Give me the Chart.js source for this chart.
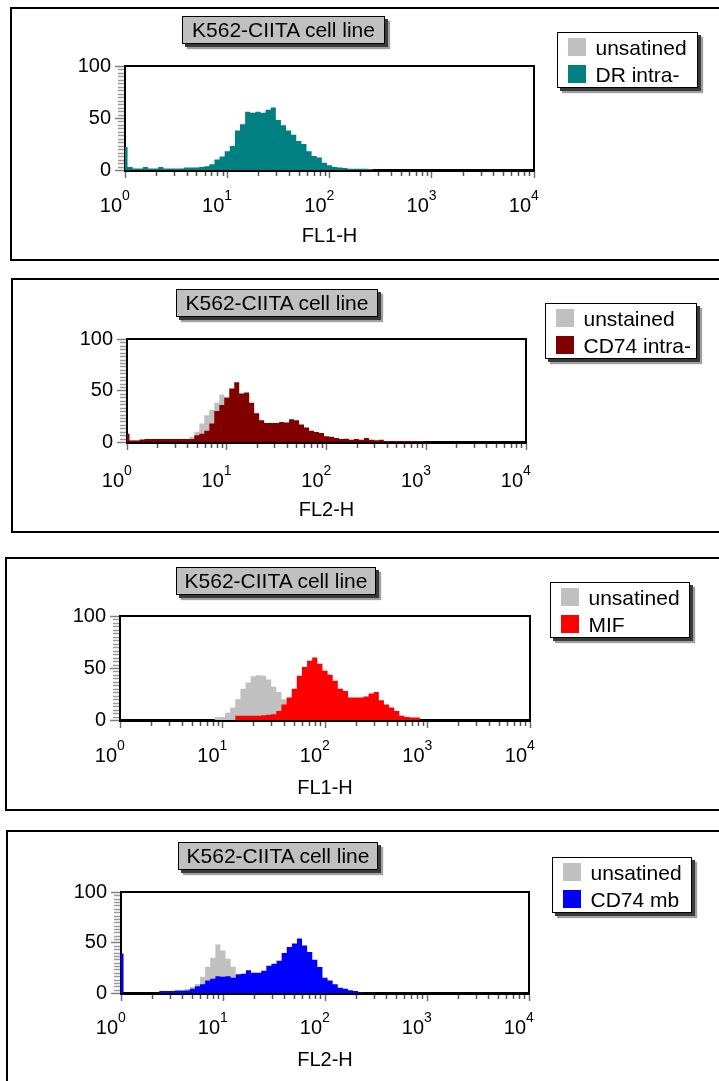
<!DOCTYPE html>
<html><head><meta charset="utf-8">
<script src="https://cdn.jsdelivr.net/npm/chart.js@4.4.1/dist/chart.umd.min.js"></script>
<style>
html,body{margin:0;padding:0;width:719px;height:1081px;overflow:hidden;background:#fff;font-family:"Liberation Sans",Arial,sans-serif;}
.panel{position:absolute;border:2px solid #000;box-sizing:border-box;}
canvas{position:absolute;left:0;}
.tbox{position:absolute;height:28px;background:#c0c0c0;border:1px solid #000;box-sizing:border-box;font-size:21px;line-height:26px;text-align:center;color:#000;box-shadow:3px 3px 0 #3a3a3a,5px 5px 1px #a0a0a0;white-space:nowrap;}
.lbox{position:absolute;height:56px;background:#fff;border:1.5px solid #000;box-sizing:border-box;box-shadow:3px 3px 0 #3a3a3a,5px 5px 1px #a0a0a0;}
.item{position:absolute;left:9.5px;height:18px;}
.sw{position:absolute;left:0;top:0;width:18px;height:18px;}
.lt{position:absolute;left:28px;top:1px;line-height:18px;font-size:21px;white-space:nowrap;color:#000;}
</style>
</head><body>
<script>
// ---- data ----
// channel positions in decades (log10 of fluorescence)
const decades = [0,0.05,0.1,0.15,0.2,0.25,0.3,0.35,0.4,0.45,0.5,0.55,0.6,0.65,0.7,0.75,0.8,0.85,0.9,0.95,
  1,1.05,1.1,1.15,1.2,1.25,1.3,1.35,1.4,1.45,1.5,1.55,1.6,1.65,1.7,1.75,1.8,1.85,1.9,1.95,
  2,2.05,2.1,2.15,2.2,2.25,2.3,2.35,2.4,2.45,2.5,2.55,2.6,2.65,2.7,2.75,2.8,2.85,2.9,2.95,3];

const unstained1 = [0,0,0,0,0,0,0,0,0,0,0,0,0,0,0,0,0,0,5,9,14,20,30,38,42,44,44,42,38,32,26,20,14,9,5,3,1,0,0,0,0,0,0,0,0,0,0,0,0,0,0,0,0,0,0,0,0,0,0,0,0];
const drIntra = [22,3,1.5,1.5,3,1.5,1.5,3,1.5,1.5,1.5,1.5,2.5,2.5,2.5,3,3.5,5.5,10,13,18,23,38,44,56,55,56,55,58,60,48,43,38,34,28,25,18,13.5,12,7,4.5,3,2.3,2,1.3,1.3,1.3,1.3,1,0,0,0,0,0,0,0,0,0,0,0,0];

const unstained2 = [1.5,1.5,1.5,1.5,1.5,1.5,1.5,1.5,1.5,1.5,1.5,1.5,2,5,10,18,26,31,38,46,44,38,30,20,12,6,3,1,0,0,0,0,0,0,0,0,0,0,0,0,0,0,0,0,0,0,0,0,0,0,0,0,0,0,0,0,0,0,0,0,0];
const cd74Intra = [8,1.5,1.5,2.5,3,3,3,3,3,3,3,3,3,3,6.5,8,11,18,30,36,43,52,58,47,48,38,28,21,18.5,18.5,18.5,19.5,19,22,21,17,14,11,9.7,8.7,5.5,5,4,3,3.2,2.3,3,2.3,4,2.3,1.6,2.3,1,1,1,1,1,1,1,1,0];

const unstained3 = [0,0,0,0,0,0,0,0,0,0,0,0,0,0,0,0,0,0,0,2.6,3,7,12,20,30,36,42,43,42.6,39,32,27,20,13,8,4,2,0,0,0,0,0,0,0,0,0,0,0,0,0,0,0,0,0,0,0,0,0,0,0,0];
const mif = [0,0,0,0,0,0,0,0,0,0,0,0,0,0,0,0,0,0,0,0,0,0,0,4,4,4,4,4,4.5,5,5.5,8.7,15,21.6,30,42.6,51,57,60,54,47.4,43.5,37.7,30,28,21.6,21.6,21.6,22.6,25.5,27,19,15,12,8.7,4,3,2.3,2.3,0,0];

const unstained4 = [0,0,0,0,0,0,0,0,0,0,0,0,2,4,6,9,16,26,35,48,42,34,26,14,8,4,2,0,0,0,0,0,0,0,0,0,0,0,0,0,0,0,0,0,0,0,0,0,0,0,0,0,0,0,0,0,0,0,0,0,0];
const cd74mb = [39,0,0,0,0,0,0,0,2,2,2,2.5,2.5,2.5,4.3,6.6,8.6,12.5,14,16.5,16,16.5,15,18.5,19,22.6,20,20,22,27,29,32,39.6,45.5,49,54,47,40.6,33,25.7,15,12.5,8.6,5.3,4.3,2.6,2,0.7,0,0,0,0,0,0,0,0,0,0,0,0,0];

const panelTitle = 'K562-CIITA cell line';
const legend1 = ['unsatined', 'DR intra-'];
const legend2 = ['unstained', 'CD74 intra-'];
const legend3 = ['unsatined', 'MIF'];
const legend4 = ['unsatined', 'CD74 mb'];
const axisTitles = ['FL1-H', 'FL2-H', 'FL1-H', 'FL2-H'];
const decadeTicks = [1, 10, 100, 1000, 10000];
const decadeExponents = ['0', '1', '2', '3', '4'];
const yLabels = [0, 50, 100];

// ---- layout / style ----
const FONT = '"Liberation Sans", Arial, sans-serif';
Chart.defaults.font.family = FONT;
Chart.defaults.color = '#000';
const GRAY = '#c0c0c0';

const panels = [
  {box:{l:10,t:7,h:254}, tb:{l:182,t:16,w:203}, lb:{l:557,t:32,w:141}, ct:0, ch:262, l:125, r:534, t:66, b:170, labelDy:36, titleDy:66,
   unst:unstained1, stain:drIntra, color:'#008080', legend:legend1, xt:axisTitles[0]},
  {box:{l:11,t:278,h:255}, tb:{l:176,t:289,w:202}, lb:{l:545,t:303,w:152}, ct:272, ch:262, l:127, r:526, t:339, b:442, labelDy:39, titleDy:68,
   unst:unstained2, stain:cd74Intra, color:'#800000', legend:legend2, xt:axisTitles[1]},
  {box:{l:5,t:557,h:254}, tb:{l:176,t:567,w:200}, lb:{l:550,t:582,w:140}, ct:550, ch:262, l:120, r:530, t:616, b:720, labelDy:36, titleDy:68,
   unst:unstained3, stain:mif, color:'#ff0000', legend:legend3, xt:axisTitles[2]},
  {box:{l:5.5,t:830,h:262}, tb:{l:178,t:842,w:200}, lb:{l:552,t:857,w:140}, ct:822, ch:259, l:121, r:529, t:892, b:993, labelDy:35, titleDy:67,
   unst:unstained4, stain:cd74mb, color:'#0000ff', legend:legend4, xt:axisTitles[3]}
];

const decor = {
  id: 'decor',
  afterDraw(chart, args, o) {
    const {ctx, chartArea: a, scales: {x, y}} = chart;
    ctx.save();
    // frame (top & right)
    ctx.strokeStyle = '#000'; ctx.lineWidth = 2;
    ctx.beginPath(); ctx.moveTo(a.left, a.top); ctx.lineTo(a.right, a.top); ctx.lineTo(a.right, a.bottom); ctx.stroke();
    // minor x ticks
    ctx.strokeStyle = '#555'; ctx.lineWidth = 1.5;
    for (let i = 0; i < decadeTicks.length - 1; i++) {
      for (let k = 2; k <= 9; k++) {
        const px = Math.round(x.getPixelForValue(k * decadeTicks[i])) + 0.5;
        ctx.beginPath(); ctx.moveTo(px, a.bottom + 2); ctx.lineTo(px, a.bottom + 6); ctx.stroke();
      }
    }
    // minor y ticks
    ctx.strokeStyle = '#9a9a9a'; ctx.lineWidth = 1.5;
    for (let j = 1; j < 30; j++) {
      if (j === 15) continue;
      const py = Math.round(y.getPixelForValue(j * 100 / 30)) + 0.5;
      ctx.beginPath(); ctx.moveTo(a.left - 7, py); ctx.lineTo(a.left - 1, py); ctx.stroke();
    }
    // decade labels 10^n
    ctx.fillStyle = '#000';
    decadeTicks.forEach((v, i) => {
      const px = x.getPixelForValue(v);
      const ly = a.bottom + o.labelDy;
      ctx.font = '20px ' + FONT; ctx.textAlign = 'right'; ctx.textBaseline = 'middle';
      ctx.fillText('10', px - 3, ly);
      ctx.font = '14px ' + FONT; ctx.textAlign = 'left'; ctx.textBaseline = 'alphabetic';
      ctx.fillText(decadeExponents[i], px - 3, ly - 6.5);
    });
    ctx.restore();
  }
};

function toXY(vals) { return vals.map((v, i) => ({x: Math.pow(10, decades[i]), y: v})); }

panels.forEach(p => {
  const box = document.createElement('div');
  box.className = 'panel';
  Object.assign(box.style, {left: p.box.l + 'px', top: p.box.t + 'px', height: p.box.h + 'px', width: (760 - p.box.l) + 'px'});
  document.body.appendChild(box);

  const cv = document.createElement('canvas');
  cv.width = 719; cv.height = p.ch;
  Object.assign(cv.style, {top: p.ct + 'px', width: '719px', height: p.ch + 'px'});
  document.body.appendChild(cv);

  const YW = 50, XH = p.titleDy + 12;
  new Chart(cv, {
    type: 'line',
    data: {datasets: [
      {label: p.legend[1], data: toXY(p.stain), backgroundColor: p.color, borderColor: 'rgba(0,0,0,0)', borderWidth: 0,
       pointRadius: 0, stepped: 'middle', fill: 'origin', order: 0},
      {label: p.legend[0], data: toXY(p.unst), backgroundColor: GRAY, borderColor: 'rgba(0,0,0,0)', borderWidth: 0,
       pointRadius: 0, stepped: 'middle', fill: 'origin', order: 1}
    ]},
    options: {
      responsive: false, animation: false, devicePixelRatio: 1,
      layout: {padding: {left: p.l - YW, right: 719 - p.r, top: p.t - p.ct, bottom: p.ct + p.ch - p.b - XH}},
      plugins: {legend: {display: false}, tooltip: {enabled: false}, decor: {labelDy: p.labelDy}},
      scales: {
        x: {type: 'logarithmic', min: 1, max: 10000, z: 1,
            afterBuildTicks: s => { s.ticks = decadeTicks.map(v => ({value: v, major: true})); },
            afterFit: s => { s.height = XH; },
            grid: {drawOnChartArea: false, drawTicks: true, tickLength: 8, tickColor: '#707070', tickWidth: 1.5},
            border: {display: true, color: '#000', width: 3},
            ticks: {display: false},
            title: {display: true, text: p.xt, color: '#000', font: {size: 20}, padding: {top: 0, bottom: 0}}},
        y: {type: 'linear', min: 0, max: 100, z: 1,
            afterBuildTicks: s => { s.ticks = yLabels.map(v => ({value: v})); },
            afterFit: s => { s.width = YW; },
            grid: {drawOnChartArea: false, tickLength: 10, tickColor: '#808080', tickWidth: 1.5},
            border: {display: true, color: '#000', width: 2},
            ticks: {color: '#000', font: {size: 20}, padding: 4}}
      }
    },
    plugins: [decor]
  });

  const tb = document.createElement('div');
  tb.className = 'tbox'; tb.textContent = panelTitle;
  Object.assign(tb.style, {left: p.tb.l + 'px', top: p.tb.t + 'px', width: p.tb.w + 'px'});
  document.body.appendChild(tb);

  const lb = document.createElement('div');
  lb.className = 'lbox';
  Object.assign(lb.style, {left: p.lb.l + 'px', top: p.lb.t + 'px', width: p.lb.w + 'px'});
  [GRAY, p.color].forEach((c, i) => {
    const it = document.createElement('div');
    it.className = 'item'; it.style.top = (4.5 + i * 27.7) + 'px';
    const sw = document.createElement('div'); sw.className = 'sw'; sw.style.background = c;
    const lt = document.createElement('div'); lt.className = 'lt'; lt.textContent = p.legend[i];
    it.appendChild(sw); it.appendChild(lt); lb.appendChild(it);
  });
  document.body.appendChild(lb);
});
</script>
</body></html>
